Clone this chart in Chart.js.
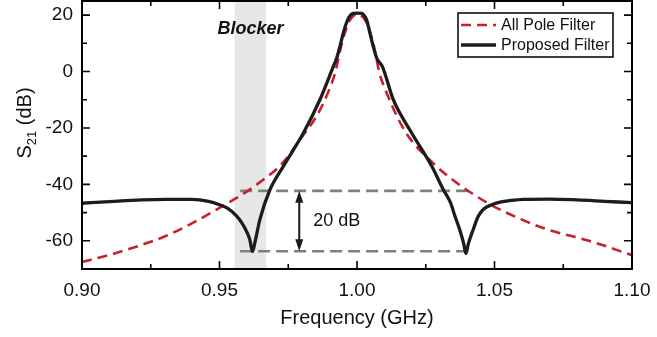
<!DOCTYPE html>
<html>
<head>
<meta charset="utf-8">
<script src="https://cdn.jsdelivr.net/npm/chart.js@4.4.0/dist/chart.umd.min.js"></script>
<style>
  html, body { margin: 0; padding: 0; background: #fff; }
</style>
</head>
<body>
<canvas id="s21" width="657" height="337"></canvas>
<script>
'use strict'

const propFreq = [0.900, 0.910, 0.920, 0.930, 0.940, 0.946, 0.950, 0.953, 0.956, 0.958, 0.960, 0.961, 0.962, 0.963, 0.9647, 0.9683, 0.9732, 0.9805, 0.9865, 0.9914, 0.9926, 0.9938, 0.9950, 0.9966, 0.9976, 0.9987, 1.0002, 1.0017, 1.0026, 1.0035, 1.0047, 1.0059, 1.0072, 1.0092, 1.0132, 1.0199, 1.0272, 1.0314, 1.034, 1.0356, 1.0375, 1.0388, 1.0396, 1.0405, 1.0423, 1.044, 1.0459, 1.049, 1.052, 1.056, 1.0605, 1.070, 1.080, 1.090, 1.100];
const propS21 = [-46.7, -46.1, -45.6, -45.3, -45.3, -46.0, -47.2, -48.5, -51.0, -53.5, -57.0, -59.5, -63.8, -60.0, -52.4, -42.0, -33.6, -21.8, -10.0, 1.8, 4.7, 8.9, 13.6, 18.3, 19.9, 20.6, 20.7, 20.6, 19.9, 18.3, 13.6, 8.9, 4.7, 1.8, -10.0, -21.8, -33.6, -41.9, -46.5, -51.2, -56.5, -61.0, -64.5, -61.0, -55.9, -51.5, -48.9, -47.2, -46.3, -45.7, -45.3, -45.2, -45.5, -46.0, -46.5];

const poleFreq = [0.900, 0.910, 0.920, 0.930, 0.940, 0.950, 0.955, 0.960, 0.966, 0.9705, 0.9744, 0.979, 0.9853, 0.989, 0.992, 0.9945, 0.997, 1.0002, 1.0034, 1.0059, 1.0082, 1.0108, 1.0175, 1.0276, 1.0362, 1.0484, 1.060, 1.069, 1.0847, 1.100];
const poleS21 = [-67.5, -65.0, -62.0, -58.5, -53.8, -48.3, -45.5, -42.5, -38.3, -34.8, -30.8, -24.5, -15.8, -8.5, -0.6, 10.0, 17.5, 20.3, 17.5, 10.0, -0.6, -7.6, -21.2, -32.4, -39.4, -47.1, -52.5, -55.9, -60.1, -65.1];

/* blocker band and the 20 dB marker */
const blockerBand = [0.9555, 0.967];
const markerFreq = [0.9575, 1.0418];
const markerTop = [-42.3, -42.3];
const markerBottom = [-63.7, -63.7];
const arrowFreq = 0.979;

/* ticks */
const xMajor = [0.90, 0.95, 1.00, 1.05, 1.10];
const xMinor = [0.925, 0.975, 1.025, 1.075];
const yMajor = [-60, -40, -20, 0, 20];
const yMinor = [-50, -30, -10, 10];

const FONT = '"Liberation Sans", Arial, Helvetica, sans-serif';

const pts = (xs, ys) => xs.map((v, i) => ({x: v, y: ys[i]}));

const decor = {
  id: 'decor',
  beforeDatasetsDraw(chart) {
    const {ctx, chartArea: a, scales: {x}} = chart;
    const b0 = x.getPixelForValue(blockerBand[0]);
    const b1 = x.getPixelForValue(blockerBand[1]);
    ctx.save();
    ctx.fillStyle = '#e6e8e8';
    ctx.fillRect(b0, a.top, b1 - b0, a.bottom - a.top);
    ctx.restore();
  },
  afterDatasetsDraw(chart) {
    const {ctx, chartArea: a, scales: {x, y}} = chart;
    ctx.save();

    // arrow between the two marker lines
    const ax = x.getPixelForValue(arrowFreq);
    const y0 = y.getPixelForValue(markerTop[0]);
    const y1 = y.getPixelForValue(markerBottom[0]);
    ctx.strokeStyle = '#1a1a1a';
    ctx.fillStyle = '#1a1a1a';
    ctx.lineWidth = 2;
    ctx.beginPath();
    ctx.moveTo(ax, y0 + 8);
    ctx.lineTo(ax, y1 - 8);
    ctx.stroke();
    ctx.beginPath();
    ctx.moveTo(ax, y0); ctx.lineTo(ax - 4, y0 + 12); ctx.lineTo(ax + 4, y0 + 12); ctx.closePath();
    ctx.fill();
    ctx.beginPath();
    ctx.moveTo(ax, y1); ctx.lineTo(ax - 4, y1 - 12); ctx.lineTo(ax + 4, y1 - 12); ctx.closePath();
    ctx.fill();

    ctx.font = '18px ' + FONT;
    ctx.textAlign = 'left';
    ctx.textBaseline = 'middle';
    ctx.fillStyle = '#111';
    ctx.fillText('20 dB', ax + 14, (y0 + y1) / 2);

    ctx.font = 'italic bold 18px ' + FONT;
    ctx.textAlign = 'center';
    ctx.fillText('Blocker', (x.getPixelForValue(blockerBand[0]) + x.getPixelForValue(blockerBand[1])) / 2, a.top + 28);

    // frame
    ctx.strokeStyle = '#000';
    ctx.lineWidth = 2;
    ctx.strokeRect(a.left, a.top, a.right - a.left, a.bottom - a.top);

    // inward ticks on all four sides
    ctx.lineWidth = 1.6;
    ctx.beginPath();
    const xt = (v, len) => {
      const px = x.getPixelForValue(v);
      ctx.moveTo(px, a.bottom); ctx.lineTo(px, a.bottom - len);
      ctx.moveTo(px, a.top); ctx.lineTo(px, a.top + len);
    };
    const yt = (v, len) => {
      const py = y.getPixelForValue(v);
      ctx.moveTo(a.left, py); ctx.lineTo(a.left + len, py);
      ctx.moveTo(a.right, py); ctx.lineTo(a.right - len, py);
    };
    xMajor.forEach(v => xt(v, 8));
    xMinor.forEach(v => xt(v, 5));
    yMajor.forEach(v => yt(v, 8));
    yMinor.forEach(v => yt(v, 5));
    ctx.stroke();

    // legend
    const ds = chart.data.datasets;
    ctx.font = '16px ' + FONT;
    const lx = 458, ly = 13, lw = 155, lh = 44;
    ctx.fillStyle = '#fff';
    ctx.fillRect(lx, ly, lw, lh);
    ctx.lineWidth = 1.5;
    ctx.strokeStyle = '#000';
    ctx.strokeRect(lx, ly, lw, lh);
    [ds[1], ds[0]].forEach((d, i) => {
      const yy = ly + 12 + i * 20;
      ctx.save();
      ctx.strokeStyle = d.borderColor;
      ctx.lineWidth = d.borderWidth;
      ctx.setLineDash(d.borderDash || []);
      ctx.beginPath();
      ctx.moveTo(lx + 3, yy);
      ctx.lineTo(lx + 38, yy);
      ctx.stroke();
      ctx.restore();
      ctx.fillStyle = '#111';
      ctx.textAlign = 'left';
      ctx.textBaseline = 'middle';
      ctx.fillText(d.label, lx + 43, yy + 1);
    });

    // axis titles
    ctx.fillStyle = '#111';
    ctx.font = '20px ' + FONT;
    ctx.textAlign = 'center';
    ctx.textBaseline = 'middle';
    ctx.fillText('Frequency (GHz)', (a.left + a.right) / 2, 318);

    ctx.translate(25, 123);
    ctx.rotate(-Math.PI / 2);
    ctx.textAlign = 'left';
    const sW = ctx.measureText('S').width;
    ctx.font = '13px ' + FONT;
    const subW = ctx.measureText('21').width;
    ctx.font = '20px ' + FONT;
    const restW = ctx.measureText(' (dB)').width;
    let tx = -(sW + subW + restW) / 2;
    ctx.fillText('S', tx, 0);
    tx += sW;
    ctx.font = '13px ' + FONT;
    ctx.fillText('21', tx, 7);
    tx += subW;
    ctx.font = '20px ' + FONT;
    ctx.fillText(' (dB)', tx, 0);

    ctx.restore();
  }
};

const ctx = document.getElementById('s21').getContext('2d');

const chart = new Chart(ctx, {
  type: 'line',
  data: {
    datasets: [{
      label: 'Proposed Filter',
      data: pts(propFreq, propS21),
      borderColor: '#1c1c1c',
      borderWidth: 3.3,
      pointRadius: 0,
      cubicInterpolationMode: 'monotone'
    }, {
      label: 'All Pole Filter',
      data: pts(poleFreq, poleS21),
      borderColor: '#c8202f',
      borderWidth: 2.6,
      borderDash: [10, 6],
      pointRadius: 0,
      cubicInterpolationMode: 'monotone'
    }, {
      label: 'marker top',
      data: pts(markerFreq, markerTop),
      borderColor: '#7f7f7f',
      borderWidth: 2.6,
      borderDash: [12, 6],
      pointRadius: 0
    }, {
      label: 'marker bottom',
      data: pts(markerFreq, markerBottom),
      borderColor: '#7f7f7f',
      borderWidth: 2.6,
      borderDash: [12, 6],
      pointRadius: 0
    }]
  },
  options: {
    responsive: false,
    animation: false,
    events: [],
    layout: { padding: { top: 1, right: 25, bottom: 0, left: 0 } },
    plugins: { legend: { display: false }, tooltip: { enabled: false } },
    scales: {
      x: {
        type: 'linear',
        min: 0.90,
        max: 1.10,
        border: { display: false },
        grid: { display: false, drawTicks: false },
        afterBuildTicks: s => { s.ticks = xMajor.map(v => ({value: v})); },
        afterFit: s => { s.height = 68; s.paddingLeft = 0; s.paddingRight = 0; },
        ticks: {
          padding: 10,
          color: '#111',
          font: { family: FONT, size: 19 },
          callback: v => Number(v).toFixed(2)
        }
      },
      y: {
        min: -70,
        max: 25,
        border: { display: false },
        grid: { display: false, drawTicks: false },
        afterBuildTicks: s => { s.ticks = yMajor.map(v => ({value: v})); },
        afterFit: s => { s.width = 82; s.paddingTop = 0; s.paddingBottom = 0; },
        ticks: {
          padding: 9,
          color: '#111',
          font: { family: FONT, size: 19 },
          callback: v => String(v)
        }
      }
    }
  },
  plugins: [decor]
});
</script>
</body>
</html>
